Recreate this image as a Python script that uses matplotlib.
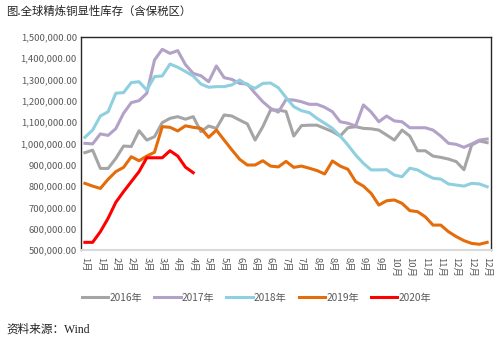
import matplotlib
matplotlib.use('Agg')
import matplotlib.pyplot as plt
from matplotlib.ticker import FuncFormatter
import numpy as np

plt.rcParams['font.family'] = ['Noto Sans CJK SC', 'DejaVu Sans']

# weekly refined copper visible stocks (incl. bonded), tonnes
y2016 = [957, 969, 883, 883, 930, 988, 986, 1060, 1016, 1032, 1098, 1118, 1126, 1114,
         1126, 1056, 1082, 1071, 1134, 1129, 1110, 1092, 1016, 1079, 1157, 1157, 1150,
         1035, 1084, 1086, 1086, 1071, 1056, 1035, 1074, 1079, 1071, 1069, 1063, 1040,
         1016, 1063, 1035, 966, 966, 941, 935, 927, 915, 877, 993, 1012, 1004]
y2017 = [1001, 998, 1045, 1038, 1070, 1142, 1192, 1201, 1236, 1392, 1442, 1423, 1436, 1370,
         1329, 1318, 1290, 1364, 1309, 1301, 1282, 1279, 1236, 1196, 1165, 1147, 1206,
         1204, 1196, 1184, 1184, 1170, 1149, 1102, 1095, 1082, 1181, 1148, 1102, 1129,
         1106, 1102, 1074, 1074, 1074, 1063, 1035, 1001, 996, 982, 998, 1016, 1021]
y2018 = [1029, 1063, 1129, 1149, 1236, 1239, 1286, 1290, 1251, 1314, 1317, 1373, 1358, 1338,
         1317, 1279, 1264, 1267, 1267, 1275, 1298, 1275, 1259, 1282, 1284, 1262, 1216,
         1173, 1154, 1145, 1118, 1095, 1071, 1035, 993, 946, 907, 876, 876, 877,
         852, 844, 884, 876, 855, 837, 833, 810, 805, 800, 813, 810, 797]
y2019 = [813, 800, 789, 832, 868, 888, 938, 919, 941, 959, 1079, 1076, 1059, 1083,
         1076, 1071, 1029, 1063, 1016, 970, 926, 899, 899, 919, 894, 890, 916,
         888, 894, 884, 873, 857, 918, 894, 879, 821, 800, 766, 711, 731,
         735, 719, 685, 680, 656, 617, 617, 586, 563, 544, 531, 527, 536]
y2020 = [536, 536, 586, 649, 724, 774, 821, 868, 933, 933, 933, 966, 941, 889, 863]

years = ['2016年', '2017年', '2018年', '2019年', '2020年']
series = [y2016, y2017, y2018, y2019, y2020]
colors = ['#A5A5A5', '#B3A2C7', '#8ECFE0', '#E46C0A', '#FF0000']

tick_labels = ['1月', '1月', '2月', '2月', '3月', '3月', '4月', '4月', '5月', '5月',
               '6月', '6月', '6月', '7月', '7月', '8月', '8月', '8月', '9月', '9月',
               '10月', '10月', '11月', '11月', '12月', '12月', '12月']

fig = plt.figure(figsize=(4.98, 3.39), dpi=100)
ax = fig.add_axes([0.1627, 0.2625, 0.8233, 0.6284])

for name, vals, c in zip(years, series, colors):
    ax.plot(np.arange(len(vals)), np.array(vals) * 1000, color=c, lw=2.2,
            label=name, solid_joinstyle='round')

ax.set_xlim(-0.5, 52.5)
ax.set_ylim(500000, 1500000)
ax.set_yticks(np.arange(500000, 1500001, 100000))
ax.yaxis.set_major_formatter(FuncFormatter(lambda v, p: f'{v:,.2f}'))
ax.set_xticks(np.arange(0, 53, 2))
ax.set_xticklabels(tick_labels, rotation=270, va='top', ha='center')
ax.tick_params(axis='both', length=0, labelsize=6.8, colors='#595959', pad=3)
ax.tick_params(axis='x', pad=5)

for side in ['left', 'top', 'right']:
    ax.spines[side].set_color('#262626')
    ax.spines[side].set_linewidth(1.0)
ax.spines['bottom'].set_color('#D9D9D9')
ax.spines['bottom'].set_linewidth(1.5)

fig.legend(loc='center', bbox_to_anchor=(0.515, 0.121), ncol=5, frameon=False,
           fontsize=7.3, handlelength=2.6, handletextpad=0.1, columnspacing=1.2,
           labelcolor='#595959')

fig.text(0.012, 0.968, '图.全球精炼铜显性库存（含保税区）', fontsize=8.2,
         color='#222222', va='center', ha='left')
fig.text(0.012, 0.027, '资料来源：Wind', fontsize=8.4, color='#222222',
         va='center', ha='left', family=['Liberation Serif', 'Noto Sans CJK SC'])

fig.savefig('out.png', dpi=100)
